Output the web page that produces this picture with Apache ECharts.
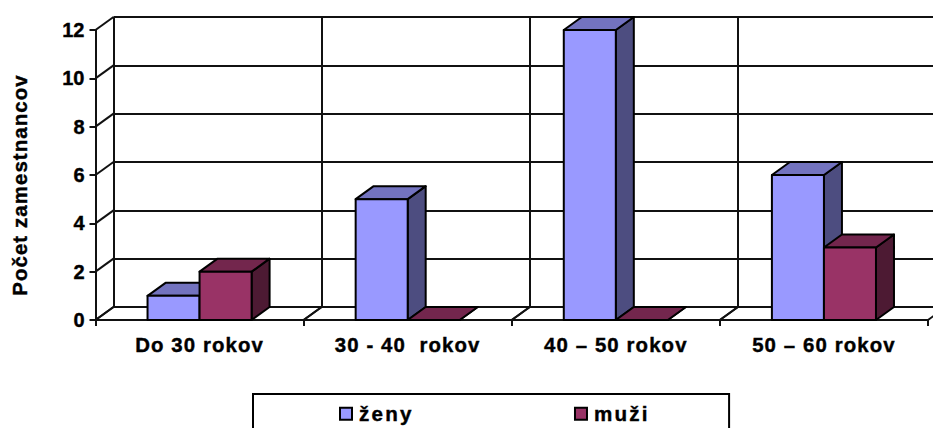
<!DOCTYPE html>
<html>
<head>
<meta charset="utf-8">
<script src="https://cdn.jsdelivr.net/npm/echarts@6/dist/echarts.min.js"></script>
<style>
html, body { margin: 0; padding: 0; background: #fff; }
#chart { width: 933px; height: 428px; overflow: hidden; }
/* excel-like tracking on labels, value axis numbers stay tight (20px) */
#chart text { letter-spacing: 1.1px; }
#chart text[style*="20px"] { letter-spacing: 0; }
#chart text[style*="20.6px"] { letter-spacing: 2.2px; }
</style>
</head>
<body>
<div id="chart"></div>
<script>
var categories = ['Do 30 rokov', '30 - 40  rokov', '40 – 50 rokov', '50 – 60 rokov'];
var zeny = [1, 5, 12, 6];
var muzi = [2, 0, 0, 3];
var valueTicks = [0, 2, 4, 6, 8, 10, 12];

// depth of the fake 3d box, in pixels
var DX = 18;
var DY = -13;

var grid = { left: 95.5, top: 30, width: 832.5, height: 290, outerBoundsMode: 'none' };
var LINE = '#111';
// reference glyphs are a bit heavier than plain bold
var heavy = { textBorderColor: '#000', textBorderWidth: 0.4 };

// one bar = front + top + side, side: -1 left of category center, 0 right of it
function barRenderer(side, colors) {
  return function (params, api) {
    var i = api.value(0);
    var base = api.coord([i, 0]);
    var top = api.coord([i, api.value(1)]);
    var w = api.size([1, 0])[0] * 0.25;
    var x0 = base[0] + side * w;
    var x1 = x0 + w;
    var style = function (fill) {
      return { fill: fill, stroke: '#000', lineWidth: 2, lineJoin: 'round' };
    };
    var poly = function (points, fill) {
      return { type: 'polygon', shape: { points: points }, style: style(fill) };
    };
    return {
      type: 'group',
      children: [
        poly([[x1, base[1]], [x1 + DX, base[1] + DY], [x1 + DX, top[1] + DY], [x1, top[1]]], colors[2]),
        poly([[x0, top[1]], [x0 + DX, top[1] + DY], [x1 + DX, top[1] + DY], [x1, top[1]]], colors[1]),
        poly([[x0, base[1]], [x1, base[1]], [x1, top[1]], [x0, top[1]]], colors[0])
      ]
    };
  };
}

function diagonal(p) {
  return {
    type: 'line',
    shape: { x1: p[0], y1: p[1], x2: p[0] + DX, y2: p[1] + DY },
    style: { stroke: LINE, lineWidth: 2 }
  };
}

var chart = echarts.init(document.getElementById('chart'), null, { renderer: 'svg' });

chart.setOption({
  animation: false,
  backgroundColor: '#fff',
  textStyle: { fontFamily: 'Liberation Sans' },
  grid: [
    grid,
    { left: grid.left + DX, top: grid.top + DY, width: grid.width, height: grid.height, outerBoundsMode: 'none' }
  ],
  legend: {
    left: 253,
    top: 394,
    orient: 'horizontal',
    padding: [9, 88, 30, 86],
    borderColor: '#000',
    borderWidth: 2,
    itemWidth: 12,
    itemHeight: 12,
    itemGap: 169,
    textStyle: Object.assign({ fontSize: 20.6, fontWeight: 'bold', color: '#000', fontFamily: 'Liberation Sans', padding: [0, 0, 0, 2] }, heavy),
    data: [
      { name: 'ženy', icon: 'rect', itemStyle: { color: '#9999FF', borderColor: '#000', borderWidth: 2 } },
      { name: 'muži', icon: 'rect', itemStyle: { color: '#993366', borderColor: '#000', borderWidth: 2 } }
    ]
  },
  xAxis: [
    {
      type: 'category',
      gridIndex: 0,
      data: categories,
      axisLine: { show: true, lineStyle: { color: LINE, width: 2 } },
      axisTick: { show: true, length: 6, lineStyle: { color: LINE, width: 2 } },
      axisLabel: Object.assign({ interval: 0, color: '#000', fontSize: 20.4, fontWeight: 'bold', margin: 15 }, heavy),
      splitLine: { show: false }
    },
    {
      type: 'category',
      gridIndex: 1,
      data: categories,
      axisLine: { show: false },
      axisTick: { show: false },
      axisLabel: { show: false },
      splitLine: { show: true, interval: 0, lineStyle: { color: LINE, width: 2 } }
    }
  ],
  yAxis: [
    {
      type: 'value',
      gridIndex: 0,
      min: 0,
      max: 12,
      interval: 2,
      name: 'Počet zamestnancov',
      nameLocation: 'middle',
      nameRotate: 90,
      nameGap: 66,
      nameTextStyle: Object.assign({ color: '#000', fontSize: 20.4, fontWeight: 'bold', padding: [0, 20, 0, 0] }, heavy),
      axisLine: { show: true, lineStyle: { color: LINE, width: 2 } },
      axisTick: { show: true, length: 6, lineStyle: { color: LINE, width: 2 } },
      axisLabel: Object.assign({ color: '#000', fontSize: 20, fontWeight: 'bold', margin: 11 }, heavy),
      splitLine: { show: false }
    },
    {
      type: 'value',
      gridIndex: 1,
      min: 0,
      max: 12,
      interval: 2,
      axisLine: { show: false },
      axisTick: { show: false },
      axisLabel: { show: false },
      splitLine: { show: true, lineStyle: { color: LINE, width: 2 } }
    }
  ],
  series: [
    {
      // left wall
      name: 'wallLines',
      type: 'custom',
      coordinateSystem: 'cartesian2d',
      xAxisIndex: 0,
      yAxisIndex: 0,
      data: valueTicks.map(function (v) { return [0, v]; }),
      renderItem: function (params, api) {
        var p = api.coord([0, api.value(1)]);
        return diagonal([grid.left, p[1]]);
      },
      z: 1,
      silent: true
    },
    {
      // floor
      name: 'floorLines',
      type: 'custom',
      coordinateSystem: 'cartesian2d',
      xAxisIndex: 0,
      yAxisIndex: 0,
      data: categories.map(function (c, i) { return [i, 0]; }),
      renderItem: function (params, api) {
        var p = api.coord([api.value(0), 0]);
        var w = api.size([1, 0])[0];
        return {
          type: 'group',
          children: [diagonal([p[0] - w / 2, p[1]]), diagonal([p[0] + w / 2, p[1]])]
        };
      },
      z: 1,
      silent: true
    },
    {
      name: 'ženy',
      type: 'custom',
      coordinateSystem: 'cartesian2d',
      xAxisIndex: 0,
      yAxisIndex: 0,
      itemStyle: { color: '#9999FF' },
      data: zeny.map(function (v, i) { return [i, v]; }),
      encode: { x: 0, y: 1 },
      renderItem: barRenderer(-1, ['#9999FF', '#7373BF', '#4D4D80']),
      z: 3
    },
    {
      name: 'muži',
      type: 'custom',
      coordinateSystem: 'cartesian2d',
      xAxisIndex: 0,
      yAxisIndex: 0,
      itemStyle: { color: '#993366' },
      data: muzi.map(function (v, i) { return [i, v]; }),
      encode: { x: 0, y: 1 },
      renderItem: barRenderer(0, ['#993366', '#73264D', '#4D1A33']),
      z: 4
    }
  ]
});
</script>
</body>
</html>
